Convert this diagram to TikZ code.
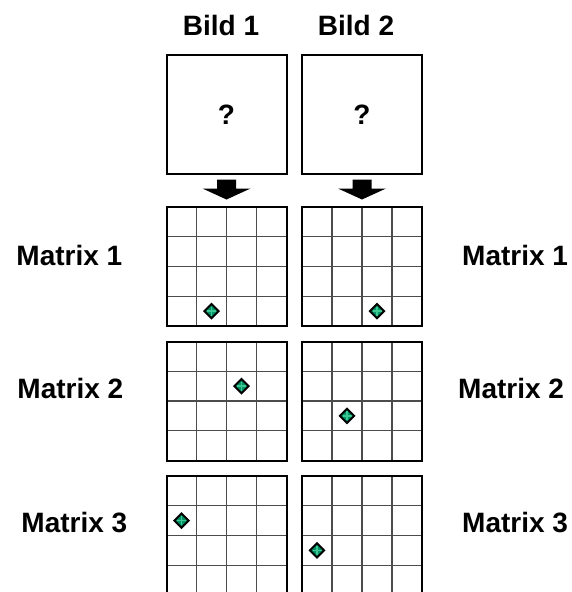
\documentclass[tikz,border=0pt]{standalone}
\usepackage{fontspec}
\setmainfont{Liberation Sans}
\usetikzlibrary{shapes.geometric, positioning, calc}
\definecolor{markgreen}{RGB}{0,145,105}
\definecolor{marklight}{RGB}{60,200,145}

\begin{document}
\begin{tikzpicture}[
            x=1pt, y=-1pt,
            lbl/.style={font=\fontsize{28}{30}\selectfont\bfseries, inner sep=0pt},
            frame/.style={draw=black, line width=2pt, minimum width=120pt, minimum height=119pt, inner sep=0pt, outer sep=0pt, font=\fontsize{28}{30}\selectfont\bfseries},
            gridline/.style={black!70, line width=1.3pt},
            marker/.style={diamond, draw=black, fill=markgreen, line width=2pt, minimum size=15pt, inner sep=0pt,
                path picture={\draw[marklight, line width=1.5pt]
                    ([yshift=4.5pt]path picture bounding box.center) -- ([yshift=-4.5pt]path picture bounding box.center)
                    ([xshift=-4.5pt]path picture bounding box.center) -- ([xshift=4.5pt]path picture bounding box.center);}}
        ]
        \useasboundingbox (0,0) rectangle (571,592);
        \clip (0,0) rectangle (571,592);

        % Bilder
        \node[frame] (B1) at (226.5,114.5) {?};
        \node[frame] (B2) at (362,114.5) {?};
        \node[lbl] (T1) at (221,25) {Bild 1};
        \node[lbl] (T2) at (356,25) {Bild 2};

        % Pfeile
        \foreach \b in {B1,B2}
            \fill ($(\b.south)+(-9.5,5.5)$) -- ++(19,0) -- ++(0,9) -- ++(14.5,0)
                -- ($(\b.south)+(0,25.5)$) -- ($(\b.south)+(-24,14.5)$) -- ++(14.5,0) -- cycle;

        % Matrizen
        \node[frame] (M1L) at (226.5,266.5) {};
        \node[frame] (M1R) at (362,266.5) {};
        \node[frame] (M2L) at (226.5,401) {};
        \node[frame] (M2R) at (362,401) {};
        \node[frame] (M3L) at (226.5,535.5) {};
        \node[frame] (M3R) at (362,535.5) {};

        \foreach \m in {M1L,M1R,M2L,M2R,M3L,M3R} {
            \foreach \k in {1,2,3} {
                \draw[gridline] ($(\m.north west)!\k/4!(\m.north east)$) -- ($(\m.south west)!\k/4!(\m.south east)$);
                \draw[gridline] ($(\m.north west)!\k/4!(\m.south west)$) -- ($(\m.north east)!\k/4!(\m.south east)$);
            }
            \draw[line width=2pt] (\m.north west) rectangle (\m.south east);
        }

        % Markierungen (Spalte/Zeile)
        \foreach \m/\c/\r in {M1L/1/3, M1R/2/3, M2L/2/1, M2R/1/2, M3L/0/1, M3R/0/2}
            \node[marker] (P\m) at ($(\m.north west)+({(\c+0.5)*30},{(\r+0.5)*29.75})$) {};

        % Beschriftungen
        \node[lbl, left=44pt of M1L, yshift=11.5pt] (L1) {Matrix 1};
        \node[lbl, left=43pt of M2L, yshift=13pt] (L2) {Matrix 2};
        \node[lbl, left=39pt of M3L, yshift=12.5pt] (L3) {Matrix 3};
        \node[lbl, right=40pt of M1R, yshift=11.5pt] (R1) {Matrix 1};
        \node[lbl, right=36pt of M2R, yshift=13pt] (R2) {Matrix 2};
        \node[lbl, right=40pt of M3R, yshift=12.5pt] (R3) {Matrix 3};
\end{tikzpicture}
\end{document}
